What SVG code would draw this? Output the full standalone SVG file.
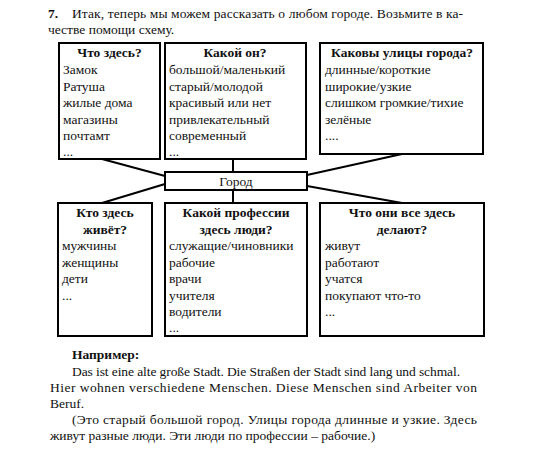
<svg xmlns="http://www.w3.org/2000/svg" width="550" height="451" viewBox="0 0 550 451">
<style>
text{font-family:"Liberation Serif","Times New Roman",serif;font-size:13.5px;fill:#111}
.b{font-weight:bold}
.c{text-anchor:middle}
.box{fill:#fff;stroke:#000;stroke-width:2}
.ln{stroke:#000;stroke-width:2;fill:none}
</style>
<rect width="550" height="451" fill="#fff"/>
<g id="intro">
<text x="48" y="18" class="b">7.</text>
<text x="72" y="18" textLength="391" lengthAdjust="spacing">Итак, теперь мы можем рассказать о любом городе. Возьмите в ка-</text>
<text x="48" y="34">честве помощи схему.</text>
</g>
<g id="connectors">
<line class="ln" x1="102" y1="159" x2="165" y2="176"/>
<line class="ln" x1="233" y1="159" x2="233" y2="172"/>
<line class="ln" x1="402" y1="154" x2="307" y2="175"/>
<line class="ln" x1="165" y1="184" x2="102" y2="203"/>
<line class="ln" x1="233" y1="190" x2="233" y2="203"/>
<line class="ln" x1="307" y1="186" x2="402" y2="203"/>
</g>
<g id="node-chto-zdes">
<rect class="box" x="59" y="43" width="101" height="116"/>
<text x="109.5" y="57" class="b c">Что здесь?</text>
<text x="63" y="74">Замок</text>
<text x="63" y="90.5">Ратуша</text>
<text x="63" y="107">жилые дома</text>
<text x="63" y="123.5">магазины</text>
<text x="63" y="140">почтамт</text>
<text x="63" y="156">...</text>
</g>
<g id="node-kakoy-on">
<rect class="box" x="165" y="43" width="141" height="116"/>
<text x="235" y="57" class="b c">Какой он?</text>
<text x="169" y="74">большой/маленький</text>
<text x="169" y="90.5">старый/молодой</text>
<text x="169" y="107">красивый или нет</text>
<text x="169" y="123.5">привлекательный</text>
<text x="169" y="140">современный</text>
<text x="169" y="156">...</text>
</g>
<g id="node-ulitsy">
<rect class="box" x="320" y="43" width="163" height="111"/>
<text x="402" y="57" class="b c">Каковы улицы города?</text>
<text x="325" y="74">длинные/короткие</text>
<text x="325" y="90.5">широкие/узкие</text>
<text x="325" y="107">слишком громкие/тихие</text>
<text x="325" y="123.5">зелёные</text>
<text x="325" y="140">....</text>
</g>
<g id="node-gorod">
<rect class="box" x="165" y="172" width="142" height="18"/>
<text x="236" y="186" class="c">Город</text>
</g>
<g id="node-kto-zhivet">
<rect class="box" x="58" y="203" width="94" height="133"/>
<text x="105" y="217" class="b c">Кто здесь</text>
<text x="105" y="233.5" class="b c">живёт?</text>
<text x="62" y="250">мужчины</text>
<text x="62" y="266.5">женщины</text>
<text x="62" y="283">дети</text>
<text x="62" y="299.5">...</text>
</g>
<g id="node-professii">
<rect class="box" x="165" y="203" width="142" height="133"/>
<text x="236" y="217" class="b c">Какой профессии</text>
<text x="236" y="233.5" class="b c">здесь люди?</text>
<text x="169" y="250">служащие/чиновники</text>
<text x="169" y="266.5">рабочие</text>
<text x="169" y="283">врачи</text>
<text x="169" y="299.5">учителя</text>
<text x="169" y="316">водители</text>
<text x="169" y="332">...</text>
</g>
<g id="node-delayut">
<rect class="box" x="320" y="203" width="164" height="133"/>
<text x="402" y="217" class="b c">Что они все здесь</text>
<text x="402" y="233.5" class="b c">делают?</text>
<text x="325" y="250">живут</text>
<text x="325" y="266.5">работают</text>
<text x="325" y="283">учатся</text>
<text x="325" y="299.5">покупают что-то</text>
<text x="325" y="316">...</text>
</g>
<g id="example">
<text x="72" y="359" class="b">Например:</text>
<text x="72" y="375.5" textLength="388" lengthAdjust="spacing">Das ist eine alte große Stadt. Die Straßen der Stadt sind lang und schmal.</text>
<text x="50" y="391.5" textLength="427" lengthAdjust="spacing">Hier wohnen verschiedene Menschen. Diese Menschen sind Arbeiter von</text>
<text x="50" y="407.5">Beruf.</text>
<text x="72" y="424" textLength="405" lengthAdjust="spacing">(Это старый большой город. Улицы города длинные и узкие. Здесь</text>
<text x="50" y="440">живут разные люди. Эти люди по профессии – рабочие.)</text>
</g>
</svg>
